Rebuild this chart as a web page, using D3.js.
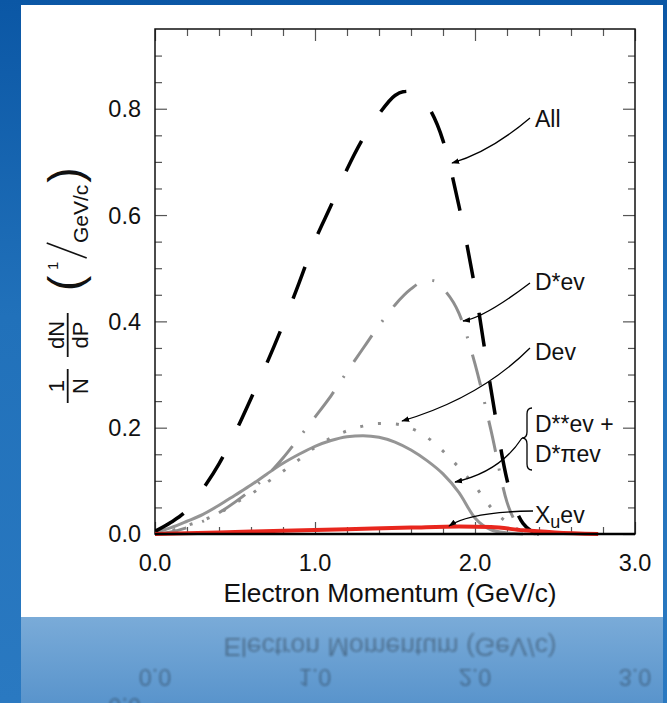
<!DOCTYPE html>
<html>
<head>
<meta charset="utf-8">
<script src="https://cdn.jsdelivr.net/npm/d3@7"></script>
<style>
  html, body { margin: 0; padding: 0; background: #1a66b0; }
  svg { display: block; }
  text { font-family: "Liberation Sans", Arial, Helvetica, sans-serif; fill: #111; }
</style>
</head>
<body>
<svg id="fig" width="667" height="703"></svg>
<script>
// Electron momentum spectra in semileptonic B decay (normalised, 1/(GeV/c))
const xTicks = [0, 1, 2, 3];
const xTickLabels = ["0.0", "1.0", "2.0", "3.0"];
const yTicks = [0, 0.2, 0.4, 0.6, 0.8];
const yTickLabels = ["0.0", "0.2", "0.4", "0.6", "0.8"];

const pAll = [0,0.1,0.2,0.3,0.4,0.5,0.6,0.7,0.8,0.9,1.0,1.1,1.2,1.3,1.4,1.5,1.55,1.6,1.65,1.7,1.8,1.9,2.0,2.1,2.2,2.3,2.4];
const vAll = [0.005,0.022,0.045,0.085,0.132,0.19,0.255,0.322,0.394,0.472,0.552,0.618,0.686,0.744,0.79,0.825,0.832,0.833,0.827,0.808,0.74,0.617,0.462,0.272,0.102,0.02,0];

const pDstar = [0,0.1,0.2,0.3,0.4,0.5,0.6,0.7,0.8,0.9,1.0,1.1,1.2,1.3,1.4,1.5,1.6,1.7,1.75,1.8,1.9,2.0,2.1,2.2,2.3,2.4];
const vDstar = [0,0.004,0.012,0.024,0.04,0.06,0.083,0.11,0.143,0.181,0.22,0.26,0.305,0.349,0.392,0.431,0.461,0.478,0.476,0.462,0.415,0.32,0.195,0.06,0.008,0];

const pD = [0,0.1,0.2,0.3,0.4,0.5,0.6,0.7,0.8,0.9,1.0,1.1,1.2,1.3,1.4,1.5,1.6,1.7,1.8,1.9,2.0,2.1,2.2,2.3,2.4];
const vD = [0,0.006,0.016,0.026,0.039,0.058,0.075,0.097,0.118,0.14,0.163,0.181,0.194,0.203,0.208,0.207,0.199,0.182,0.156,0.125,0.09,0.05,0.022,0.005,0];

const pDss = [0,0.1,0.2,0.3,0.4,0.5,0.6,0.7,0.8,0.9,1.0,1.1,1.2,1.3,1.4,1.5,1.6,1.7,1.8,1.9,2.0,2.1,2.2,2.3];
const vDss = [0.003,0.012,0.024,0.037,0.054,0.073,0.092,0.113,0.133,0.15,0.165,0.176,0.183,0.185,0.182,0.173,0.158,0.138,0.113,0.078,0.03,0.008,0.002,0];

const pXu = [0,0.4,0.8,1.2,1.6,1.9,2.1,2.3,2.5,2.77];
const vXu = [0,0.003,0.006,0.009,0.012,0.014,0.013,0.007,0.003,0];

const W = 667, H = 703;
const svg = d3.select("#fig");
const defs = svg.append("defs");

// page background
const bg = defs.append("linearGradient").attr("id", "bgGrad").attr("x1", 0).attr("y1", 0).attr("x2", 0).attr("y2", 1);
bg.append("stop").attr("offset", "0").attr("stop-color", "#0b57a5");
bg.append("stop").attr("offset", "0.45").attr("stop-color", "#2171ba");
bg.append("stop").attr("offset", "1").attr("stop-color", "#2a79c1");
svg.append("rect").attr("width", W).attr("height", H).attr("fill", "url(#bgGrad)");

// reflection band under the panel
const band = defs.append("linearGradient").attr("id", "bandGrad").attr("x1", 0).attr("y1", 0).attr("x2", 0).attr("y2", 1);
band.append("stop").attr("offset", "0").attr("stop-color", "#7aabd8");
band.append("stop").attr("offset", "1").attr("stop-color", "#5994cc");
svg.append("rect").attr("x", 21).attr("y", 617).attr("width", 642).attr("height", H - 617).attr("fill", "url(#bandGrad)");

// white panel
svg.append("rect").attr("x", 21).attr("y", 5).attr("width", 642).attr("height", 612).attr("fill", "#fff");

const chart = svg.append("g").attr("id", "chart");

const x = d3.scaleLinear().domain([0, 3]).range([155, 635]);
const y = d3.scaleLinear().domain([0, 0.95]).range([534, 29]);

// inward ticks on all four sides: majors and minors
const tickCol = "#555";
const xMinor = d3.range(0, 3.0001, 0.2).map(v => +v.toFixed(2)).filter(v => !xTicks.includes(v));
const yMinor = d3.range(0, 0.9501, 0.05).map(v => +v.toFixed(2)).filter(v => !yTicks.includes(v) && v < 0.95);

const axG = chart.append("g");
[[d3.axisBottom, y(0)], [d3.axisTop, y(0.95)]].forEach(([fn, ty]) => {
  axG.append("g").attr("transform", `translate(0,${ty})`)
    .call(fn(x).tickValues(xTicks).tickSize(-12).tickFormat("").tickSizeOuter(0));
  axG.append("g").attr("transform", `translate(0,${ty})`)
    .call(fn(x).tickValues(xMinor).tickSize(-7).tickFormat("").tickSizeOuter(0));
});
[[d3.axisLeft, x(0)], [d3.axisRight, x(3)]].forEach(([fn, tx]) => {
  axG.append("g").attr("transform", `translate(${tx},0)`)
    .call(fn(y).tickValues(yTicks).tickSize(-12).tickFormat("").tickSizeOuter(0));
  axG.append("g").attr("transform", `translate(${tx},0)`)
    .call(fn(y).tickValues(yMinor).tickSize(-7).tickFormat("").tickSizeOuter(0));
});
axG.selectAll(".domain").remove();
axG.selectAll(".tick line").attr("stroke", tickCol).attr("stroke-width", 1.2);

// frame
chart.append("rect").attr("x", x(0)).attr("y", y(0.95)).attr("width", x(3) - x(0)).attr("height", y(0) - y(0.95))
  .attr("fill", "none").attr("stroke", "#111").attr("stroke-width", 1.5);

// tick labels
chart.append("g").selectAll("text").data(yTicks).join("text")
  .attr("x", 141).attr("y", d => y(d)).attr("dy", "0.36em").attr("text-anchor", "end")
  .attr("font-size", 23.5).text((d, i) => yTickLabels[i]);
chart.append("g").selectAll("text").data(xTicks).join("text")
  .attr("x", d => x(d)).attr("y", 571).attr("text-anchor", "middle")
  .attr("font-size", 23.5).text((d, i) => xTickLabels[i]);

// x title
chart.append("text").attr("x", 390).attr("y", 602).attr("text-anchor", "middle")
  .attr("font-size", 26.3).text("Electron Momentum (GeV/c)");

// y title: (1/N)(dN/dP) (1/GeV/c), rotated
const yl = chart.append("g").attr("transform", "translate(67.7,403) rotate(-90)");
function frac(u0, u1, num, den) {
  yl.append("line").attr("x1", u0).attr("x2", u1).attr("y1", 0).attr("y2", 0).attr("stroke", "#111").attr("stroke-width", 1.8);
  yl.append("text").attr("x", (u0 + u1) / 2).attr("y", -4).attr("text-anchor", "middle").attr("font-size", 22).text(num);
  yl.append("text").attr("x", (u0 + u1) / 2).attr("y", 20).attr("text-anchor", "middle").attr("font-size", 22).text(den);
}
frac(0, 34, "1", "N");
frac(46, 90, "dN", "dP");
yl.append("text").attr("x", 112).attr("y", 13).attr("font-size", 46).text("(");
yl.append("text").attr("x", 133).attr("y", -10).attr("font-size", 15).text("1");
yl.append("line").attr("x1", 145).attr("y1", 19).attr("x2", 160).attr("y2", -21).attr("stroke", "#111").attr("stroke-width", 1.6);
const gev = yl.append("text").attr("x", 160).attr("y", 20).attr("font-size", 21).text("GeV/c");
const gl = gev.node().getComputedTextLength();
yl.append("text").attr("x", 160 + gl + 2).attr("y", 13).attr("font-size", 46).text(")");

// curves
const clip = defs.append("clipPath").attr("id", "plotClip");
clip.append("rect").attr("x", x(0)).attr("y", y(0.95)).attr("width", x(3) - x(0)).attr("height", y(0) - y(0.95) + 3);
const line = d3.line().x(d => x(d[0])).y(d => y(d[1])).curve(d3.curveMonotoneX);
const zip = (p, v) => p.map((pp, i) => [pp, v[i]]);
const curves = chart.append("g").attr("clip-path", "url(#plotClip)");

curves.append("path").datum(zip(pDss, vDss)).attr("d", line)
  .attr("fill", "none").attr("stroke", "#959595").attr("stroke-width", 3);
curves.append("path").datum(zip(pD, vD)).attr("d", line)
  .attr("fill", "none").attr("stroke", "#8e8e8e").attr("stroke-width", 3).attr("stroke-dasharray", "3,15");
curves.append("path").datum(zip(pDstar, vDstar)).attr("d", line)
  .attr("fill", "none").attr("stroke", "#8e8e8e").attr("stroke-width", 3).attr("stroke-dasharray", "32,17,2,17");
curves.append("path").datum(zip(pAll, vAll)).attr("d", line)
  .attr("fill", "none").attr("stroke", "#000").attr("stroke-width", 3.5).attr("stroke-dasharray", "34,35");
curves.append("path").datum(zip(pXu, vXu)).attr("d", line)
  .attr("fill", "none").attr("stroke", "#e8261d").attr("stroke-width", 4);

// bottom axis line drawn heavier
chart.append("line").attr("x1", x(0)).attr("x2", x(3)).attr("y1", y(0)).attr("y2", y(0))
  .attr("stroke", "#000").attr("stroke-width", 2.5);

// annotations
defs.append("marker").attr("id", "arr").attr("viewBox", "0 0 10 10").attr("refX", 9).attr("refY", 5)
  .attr("markerWidth", 8).attr("markerHeight", 8).attr("markerUnits", "userSpaceOnUse").attr("orient", "auto")
  .append("path").attr("d", "M0,1.5 L10,5 L0,8.5 Z").attr("fill", "#000");
const ann = chart.append("g");
const arrows = [
  "M530,118 Q490,152 452,163",
  "M530,283 Q484,318 463,321",
  "M530,348 Q480,398 402,421",
  "M522,438 Q500,472 455,482",
  "M533,511 Q470,512 449,526"
];
ann.selectAll("path.arrow").data(arrows).join("path").attr("class", "arrow").attr("d", d => d)
  .attr("fill", "none").attr("stroke", "#000").attr("stroke-width", 1.3).attr("marker-end", "url(#arr)");
ann.append("path").attr("d", "M532,408 Q527,408 527,414 L527,432 Q527,438 522,438 Q527,438 527,444 L527,464 Q527,470 532,470")
  .attr("fill", "none").attr("stroke", "#000").attr("stroke-width", 1.3);

const labels = [
  {t: "All", y: 127},
  {t: "D*ev", y: 290},
  {t: "Dev", y: 360},
  {t: "D**ev +", y: 432},
  {t: "D*\u03C0ev", y: 462}
];
ann.selectAll("text.lab").data(labels).join("text").attr("class", "lab")
  .attr("x", 535).attr("y", d => d.y).attr("font-size", 23).text(d => d.t);
const xu = ann.append("text").attr("x", 535).attr("y", 523).attr("font-size", 23);
xu.append("tspan").text("X");
xu.append("tspan").attr("dy", 5).attr("font-size", 18).text("u");
xu.append("tspan").attr("dy", -5).text("ev");

// mirrored, faded copy of the lower part of the panel
const rclip = defs.append("clipPath").attr("id", "reflClip");
rclip.append("rect").attr("x", 21).attr("y", 617).attr("width", 642).attr("height", H - 617);
const blur = defs.append("filter").attr("id", "soft");
blur.append("feGaussianBlur").attr("stdDeviation", 0.9);
svg.append("g").attr("clip-path", "url(#reflClip)")
  .append("g").attr("opacity", 0.32).attr("filter", "url(#soft)")
  .append("use").attr("href", "#chart").attr("transform", "translate(0,1240) scale(1,-1)");
</script>
</body>
</html>
